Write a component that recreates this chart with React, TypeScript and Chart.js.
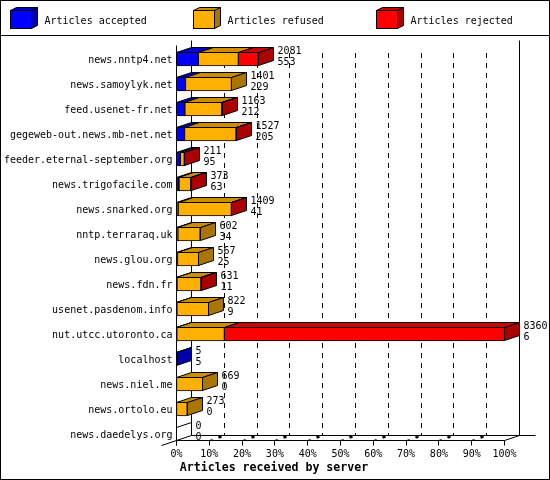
import React, { useEffect, useRef } from 'react';
import { Chart, registerables } from 'chart.js';

Chart.register(...registerables);

const servers = [
  'news.nntp4.net',
  'news.samoylyk.net',
  'feed.usenet-fr.net',
  'gegeweb-out.news.mb-net.net',
  'feeder.eternal-september.org',
  'news.trigofacile.com',
  'news.snarked.org',
  'nntp.terraraq.uk',
  'news.glou.org',
  'news.fdn.fr',
  'usenet.pasdenom.info',
  'nut.utcc.utoronto.ca',
  'localhost',
  'news.niel.me',
  'news.ortolo.eu',
  'news.daedelys.org',
];

// the two numbers printed next to each bar
const received = [2081, 1401, 1163, 1527, 211, 373, 1409, 602, 567, 631, 822, 8360, 5, 669, 273, 0];
const accepted = [553, 229, 212, 205, 95, 63, 41, 34, 25, 11, 9, 6, 5, 0, 0, 0];
const refused = [1025, 1172, 941, 1312, 104, 300, 1358, 568, 542, 610, 813, 1215, 0, 669, 273, 0];
const rejected = [503, 0, 10, 10, 12, 10, 10, 0, 0, 10, 0, 7139, 0, 0, 0, 0];

const seriesNames = ['Articles accepted', 'Articles refused', 'Articles rejected'];
const tickValues = [0, 10, 20, 30, 40, 50, 60, 70, 80, 90, 100];
const axisTitle = 'Articles received by server';

const FRONT = ['#0000ff', '#ffb000', '#ff0000'];
const TOP = ['#0000cc', '#cc8d00', '#cc0000'];
const SIDE = ['#0000aa', '#aa7500', '#aa0000'];

const FONT = '"DejaVu Sans Mono", monospace';
const DX = 15; // depth of the fake 3d
const DY = 5;

const snap = (v: number) => Math.round(v - 0.5) + 0.5;

function poly(ctx: CanvasRenderingContext2D, pts: number[][], fill?: string) {
  ctx.beginPath();
  pts.forEach(([x, y], i) => (i ? ctx.lineTo(x, y) : ctx.moveTo(x, y)));
  ctx.closePath();
  if (fill) {
    ctx.fillStyle = fill;
    ctx.fill();
  }
  ctx.stroke();
}

function line(ctx: CanvasRenderingContext2D, x0: number, y0: number, x1: number, y1: number) {
  ctx.beginPath();
  ctx.moveTo(x0, y0);
  ctx.lineTo(x1, y1);
  ctx.stroke();
}

const series = [accepted, refused, rejected];
const maxReceived = Math.max(...received);
const pct = (v: number) => (v * 100) / maxReceived;

// walls, floor and grid, behind the bars
const wallsPlugin = {
  id: 'walls',
  beforeDatasetsDraw(chart: any) {
    const { ctx, scales } = chart;
    const x = scales.x;
    const frontY = 440.5;
    const backY = frontY - DY;
    const topY = 40.5;
    const x0 = snap(x.getPixelForValue(0));
    const x100 = snap(x.getPixelForValue(100));
    ctx.save();
    ctx.strokeStyle = '#000';
    ctx.lineWidth = 1;

    // back wall grid
    ctx.setLineDash([5, 5]);
    tickValues.slice(1, -1).forEach(v => {
      const px = snap(x.getPixelForValue(v));
      line(ctx, px + DX, 53, px + DX, backY);
    });
    ctx.setLineDash([]);

    // the floor lines come out as two stubs
    tickValues.slice(1, -1).forEach(v => {
      const px = snap(x.getPixelForValue(v));
      line(ctx, px, frontY, px + 3, frontY - 1);
      ctx.lineWidth = 2.5;
      line(ctx, px + 9, frontY - 3, px + 12, frontY - 4);
      ctx.lineWidth = 1;
    });

    line(ctx, x0, topY + DY, x0, frontY + 5);
    line(ctx, x0 + DX, topY, x0 + DX, backY);
    line(ctx, x100 + DX, topY, x100 + DX, backY);
    line(ctx, x0, frontY, x100, frontY);
    line(ctx, x0 + DX, backY, x100 + DX + 16, backY);
    line(ctx, x0 - DX, frontY + DY, x0 + DX, backY);
    line(ctx, x100, frontY, x100 + DX, backY);
    tickValues.forEach(v => {
      const px = snap(x.getPixelForValue(v));
      line(ctx, px, frontY, px, frontY + 5);
    });
    ctx.restore();
  },
  afterDatasetsDraw(chart: any) {
    const { ctx, scales } = chart;
    const x = scales.x;
    const y = scales.y;
    ctx.save();
    ctx.strokeStyle = '#000';
    ctx.lineWidth = 1;
    servers.forEach((_, i) => {
      const mid = y.getPixelForValue(i);
      const top = snap(mid - 7);
      const bottom = snap(mid + 6);
      let sum = 0;
      let last = -1;
      series.forEach((values, s) => {
        if (!values[i]) return;
        const a = snap(x.getPixelForValue(pct(sum)));
        sum += values[i];
        const b = snap(x.getPixelForValue(pct(sum)));
        poly(ctx, [[a, top], [b, top], [b + DX, top - DY], [a + DX, top - DY]], TOP[s]);
        last = s;
      });
      const end = snap(x.getPixelForValue(pct(sum)));
      if (last >= 0) {
        poly(ctx, [[end, top], [end + DX, top - DY], [end + DX, bottom - DY], [end, bottom]], SIDE[last]);
      } else {
        // empty row, only the outline of a flat bar
        line(ctx, end, top, end + DX, top - DY);
      }
      // counts beside the bar
      const lx = snap(x.getPixelForValue(pct(received[i]))) + DX + 4;
      ctx.fillStyle = '#000';
      ctx.font = `10px ${FONT}`;
      ctx.textAlign = 'left';
      ctx.textBaseline = 'middle';
      ctx.fillText(String(received[i]), lx, mid - 8);
      ctx.fillText(String(accepted[i]), lx, mid + 3);
    });
    ctx.restore();
  },
  afterDraw(chart: any) {
    const { ctx } = chart;
    ctx.save();
    ctx.strokeStyle = '#000';
    ctx.lineWidth = 1;
    ctx.strokeRect(0.5, 0.5, 549, 479);
    line(ctx, 0, 35.5, 550, 35.5);

    // legend
    seriesNames.forEach((name, s) => {
      const lx = 10.5 + s * 183;
      poly(ctx, [[lx, 10.5], [lx + 21, 10.5], [lx + 27, 7.5], [lx + 6, 7.5]], TOP[s]);
      poly(ctx, [[lx + 21, 10.5], [lx + 27, 7.5], [lx + 27, 25.5], [lx + 21, 28.5]], SIDE[s]);
      ctx.fillStyle = FRONT[s];
      ctx.fillRect(lx, 10.5, 21, 18);
      ctx.strokeRect(lx, 10.5, 21, 18);
      ctx.fillStyle = '#000';
      ctx.font = `10px ${FONT}`;
      ctx.textAlign = 'left';
      ctx.textBaseline = 'middle';
      ctx.fillText(name, lx + 34, 21);
    });

    ctx.font = `bold 11.6px ${FONT}`;
    ctx.fillStyle = '#000';
    ctx.textAlign = 'center';
    ctx.textBaseline = 'middle';
    ctx.fillText(axisTitle, 274, 468);
    ctx.restore();
  },
};

export default function App() {
  const canvasRef = useRef<HTMLCanvasElement>(null);

  useEffect(() => {
    if (!canvasRef.current) return;
    document.body.style.margin = '0';

    const chart = new Chart(canvasRef.current, {
      type: 'bar',
      data: {
        labels: servers,
        datasets: series.map((values, s) => ({
          label: seriesNames[s],
          data: values.map(pct),
          backgroundColor: FRONT[s],
          borderColor: '#000',
          borderWidth: 1,
          borderSkipped: false,
          barThickness: 14,
        })),
      },
      options: {
        indexAxis: 'y',
        responsive: false,
        animation: false,
        layout: { padding: { left: 0, right: 45.5, top: 46.5, bottom: 0 } },
        plugins: {
          legend: { display: false },
          tooltip: { enabled: false },
        },
        scales: {
          x: {
            stacked: true,
            min: 0,
            max: 100,
            afterBuildTicks: (scale: any) => {
              scale.ticks = tickValues.map(value => ({ value }));
            },
            afterFit: (scale: any) => {
              scale.height = 33.5;
            },
            border: { display: false },
            grid: { display: false, drawTicks: false },
            ticks: {
              autoSkip: false,
              maxRotation: 0,
              minRotation: 0,
              padding: 2,
              color: '#000',
              font: { family: FONT, size: 10 },
              callback: (v: any) => `${v}%`,
            },
          },
          y: {
            stacked: true,
            afterFit: (scale: any) => {
              scale.width = 176.5;
            },
            border: { display: false },
            grid: { display: false, drawTicks: false },
            ticks: {
              autoSkip: false,
              padding: 4,
              labelOffset: 1,
              color: '#000',
              font: { family: FONT, size: 10 },
            },
          },
        },
      },
      plugins: [wallsPlugin],
    } as any);

    return () => chart.destroy();
  }, []);

  return <canvas ref={canvasRef} width={550} height={480} style={{ display: 'block' }} />;
}
